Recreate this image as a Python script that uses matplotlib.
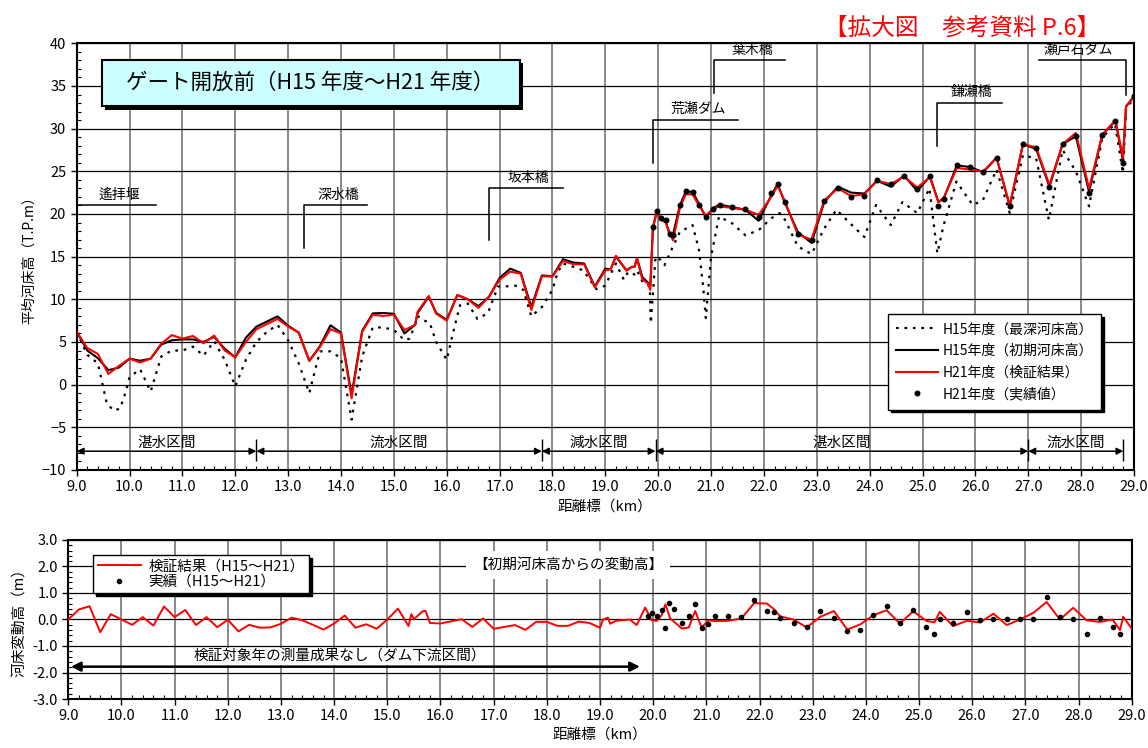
import matplotlib
matplotlib.use("Agg")
import matplotlib.pyplot as plt
from matplotlib.lines import Line2D
from matplotlib.patches import Rectangle
from matplotlib.ticker import MultipleLocator, FormatStrFormatter

plt.rcParams['font.family'] = ['Noto Sans CJK JP', 'DejaVu Sans']

# ---- 平均河床高 (km, H21 検証結果, H15 初期河床高) ----
km_top = [9.0, 9.2, 9.4, 9.6, 9.8, 10.0, 10.2, 10.4, 10.6, 10.8,
          11.0, 11.2, 11.4, 11.6, 11.8, 12.0, 12.2, 12.4, 12.6, 12.8,
          13.0, 13.2, 13.4, 13.6, 13.8, 14.0, 14.2, 14.4, 14.6, 14.8,
          15.0, 15.2, 15.4, 15.45, 15.66, 15.8, 16.0, 16.2, 16.4, 16.6,
          16.8, 17.0, 17.2, 17.4, 17.6, 17.8, 18.0, 18.2, 18.4, 18.6,
          18.8, 19.0, 19.1, 19.2, 19.4, 19.5, 19.55, 19.6, 19.7, 19.8,
          19.85, 19.9, 19.97, 20.06, 20.14, 20.22, 20.28, 20.41, 20.52, 20.65,
          20.77, 20.9, 21.04, 21.16, 21.4, 21.65, 21.9, 22.14, 22.26, 22.39,
          22.64, 22.9, 23.14, 23.4, 23.65, 23.9, 24.14, 24.4, 24.65, 24.9,
          25.14, 25.3, 25.4, 25.65, 25.9, 26.15, 26.4, 26.65, 26.9, 27.15,
          27.4, 27.65, 27.9, 28.15, 28.4, 28.65, 28.79, 28.85, 29.0]
h21_calc = [6.2, 4.3, 3.6, 1.25, 2.2, 3.05, 2.6, 3.05, 4.8, 5.8,
            5.4, 5.7, 4.85, 5.75, 4.0, 3.2, 5.0, 6.5, 7.1, 7.7,
            6.8, 6.1, 2.8, 4.4, 6.5, 6.0, -1.6, 6.2, 8.2, 8.05,
            8.2, 6.4, 7.0, 8.55, 10.4, 8.3, 7.5, 10.5, 10.0, 9.0,
            10.3, 12.3, 13.25, 13.0, 8.75, 12.7, 12.65, 14.5, 14.1, 14.1,
            11.4, 13.4, 13.5, 15.1, 13.35, 13.8, 13.8, 14.8, 12.3, 11.9,
            11.1, 18.5, 20.1, 19.3, 19.0, 17.8, 16.9, 20.7, 22.3, 22.3,
            21.0, 19.8, 20.6, 20.9, 20.7, 20.5, 19.9, 22.0, 23.3, 21.6,
            17.6, 17.0, 21.6, 23.0, 22.1, 22.3, 23.9, 23.5, 24.4, 23.1,
            24.3, 21.4, 21.9, 25.4, 25.2, 25.0, 26.6, 21.0, 28.2, 27.8,
            23.4, 28.2, 29.5, 23.0, 29.3, 31.0, 26.6, 32.6, 33.7]
h15_init = [6.2, 4.0, 3.1, 1.7, 2.0, 3.05, 2.8, 3.05, 4.7, 5.2,
            5.3, 5.3, 5.0, 5.6, 4.2, 3.2, 5.5, 6.8, 7.4, 8.0,
            6.9, 6.1, 2.8, 4.5, 6.95, 6.1, -1.2, 6.3, 8.35, 8.4,
            8.3, 6.0, 7.0, 8.4, 10.3, 8.4, 7.6, 10.5, 10.0, 9.2,
            10.3, 12.5, 13.6, 13.1, 9.1, 12.8, 12.7, 14.7, 14.3, 14.2,
            11.5, 13.6, 13.5, 15.0, 13.4, 13.8, 13.8, 14.8, 12.6, 12.0,
            11.5, 18.4, 20.2, 19.4, 19.1, 17.5, 17.6, 21.0, 22.6, 22.6,
            21.2, 19.6, 20.7, 21.1, 20.8, 20.5, 19.2, 22.2, 23.5, 21.4,
            17.9, 16.6, 21.4, 23.2, 22.5, 22.4, 23.9, 23.2, 24.5, 22.7,
            24.4, 21.4, 21.8, 25.7, 25.5, 24.9, 26.6, 20.9, 28.2, 27.6,
            23.2, 28.2, 29.1, 22.6, 29.3, 30.9, 26.3, 32.6, 33.8]

# ---- H21 実績値 ----
km_obs = [19.9, 19.97, 20.06, 20.14, 20.22, 20.28, 20.41, 20.52, 20.65, 20.77,
          20.9, 21.04, 21.16, 21.4, 21.65, 21.9, 22.14, 22.26, 22.39, 22.64,
          22.9, 23.14, 23.4, 23.65, 23.9, 24.14, 24.4, 24.65, 24.9, 25.14,
          25.3, 25.4, 25.65, 25.9, 26.15, 26.4, 26.65, 26.9, 27.15, 27.4,
          27.65, 27.9, 28.15, 28.4, 28.65, 28.79, 29.0]
h21_obs = [18.5, 20.3, 19.5, 19.3, 17.7, 17.5, 21.1, 22.7, 22.6, 21.1,
           19.6, 20.6, 21.1, 20.8, 20.6, 19.7, 22.4, 23.5, 21.4, 17.65,
           16.9, 21.5, 23.1, 22.0, 22.1, 24.0, 23.5, 24.5, 22.9, 24.4,
           20.9, 21.8, 25.7, 25.5, 24.9, 26.6, 20.9, 28.2, 27.7, 23.2,
           28.2, 29.1, 22.5, 29.3, 30.9, 25.95, 33.8]

# ---- H15 最深河床高 ----
km_deep = [9.0, 9.2, 9.4, 9.57, 9.7, 9.82, 9.92, 10.0, 10.2, 10.4,
           10.6, 10.8, 11.0, 11.2, 11.4, 11.6, 11.8, 12.0, 12.2, 12.4,
           12.6, 12.8, 13.0, 13.2, 13.4, 13.6, 13.8, 14.0, 14.2, 14.4,
           14.6, 14.8, 15.0, 15.2, 15.3, 15.46, 15.55, 15.68, 15.8, 16.0,
           16.1, 16.25, 16.4, 16.58, 16.78, 16.97, 17.1, 17.3, 17.45, 17.6,
           17.8, 18.0, 18.1, 18.2, 18.4, 18.58, 18.83, 19.0, 19.08, 19.2,
           19.35, 19.43, 19.55, 19.6, 19.7, 19.84, 19.86, 19.95, 20.05, 20.12,
           20.28, 20.41, 20.65, 20.77, 20.85, 20.9, 21.0, 21.15, 21.4, 21.65,
           21.9, 22.14, 22.3, 22.4, 22.64, 22.9, 23.14, 23.37, 23.63, 23.9,
           24.12, 24.4, 24.62, 24.9, 25.13, 25.28, 25.4, 25.64, 25.95, 26.14,
           26.4, 26.65, 26.9, 27.15, 27.39, 27.65, 27.9, 28.15, 28.4, 28.64,
           28.79, 28.85, 29.0]
h15_deep = [6.2, 3.5, 2.5, -2.2, -3.05, -2.8, -1.0, 0.9, 1.8, -0.8,
            3.3, 4.0, 4.0, 4.45, 3.4, 5.1, 2.9, -0.2, 2.9, 5.0,
            6.2, 7.0, 5.2, 2.5, -1.0, 3.9, 3.9, 3.1, -4.1, 3.3,
            6.7, 6.7, 6.4, 5.2, 5.4, 8.0, 7.6, 7.2, 5.0, 2.9,
            5.6, 9.3, 9.5, 7.7, 8.4, 11.5, 11.5, 11.6, 11.1, 8.0,
            9.1, 11.1, 13.2, 14.2, 13.8, 13.4, 11.2, 11.6, 12.7, 14.2,
            12.3, 13.2, 12.9, 13.4, 12.1, 11.5, 7.2, 15.0, 14.6, 14.0,
            16.2, 17.9, 18.7, 15.8, 11.5, 7.8, 15.0, 19.7, 18.9, 17.5,
            18.1, 19.5, 20.1, 19.3, 16.2, 15.3, 18.3, 20.5, 18.9, 17.3,
            21.05, 18.7, 21.4, 20.1, 23.0, 15.4, 18.7, 23.8, 21.05, 21.6,
            25.2, 20.1, 26.9, 26.5, 19.3, 27.5, 25.0, 20.9, 28.9, 30.6,
            24.8, 32.4, 33.5]

# ---- 初期河床高からの変動高 ----
km_chg = [9.0, 9.2, 9.4, 9.6, 9.8, 10.0, 10.2, 10.4, 10.6, 10.8,
          11.0, 11.2, 11.4, 11.6, 11.8, 12.0, 12.2, 12.4, 12.6, 12.8,
          13.0, 13.2, 13.4, 13.6, 13.8, 14.0, 14.2, 14.4, 14.6, 14.8,
          15.0, 15.2, 15.4, 15.45, 15.5, 15.55, 15.67, 15.72, 15.8, 16.0,
          16.4, 16.6, 16.8, 17.0, 17.4, 17.6, 17.8, 18.0, 18.2, 18.4,
          18.6, 18.8, 19.0, 19.06, 19.15, 19.19, 19.3, 19.56, 19.69, 19.85,
          19.97, 20.07, 20.16, 20.23, 20.32, 20.54, 20.67, 20.79, 20.91, 21.04,
          21.16, 21.41, 21.66, 21.9, 22.14, 22.26, 22.39, 22.64, 22.89, 23.14,
          23.4, 23.65, 23.9, 24.14, 24.39, 24.64, 24.89, 25.14, 25.29, 25.39,
          25.64, 25.9, 26.15, 26.4, 26.65, 26.9, 27.15, 27.4, 27.65, 27.9,
          28.15, 28.4, 28.64, 28.78, 28.84, 29.0]
chg_calc = [0.0, 0.38, 0.5, -0.48, 0.2, 0.0, -0.2, 0.09, -0.23, 0.49,
            0.09, 0.36, -0.21, 0.09, -0.29, -0.01, -0.45, -0.2, -0.31, -0.3,
            -0.16, 0.07, -0.03, -0.2, -0.38, -0.15, 0.15, -0.31, -0.18, -0.35,
            0.0, 0.41, -0.25, 0.2, 0.02, 0.1, 0.32, 0.32, -0.13, -0.15,
            0.01, -0.28, 0.04, -0.35, -0.21, -0.39, -0.09, -0.09, -0.24, -0.24,
            -0.08, -0.13, -0.31, 0.0, 0.07, -0.16, -0.05, 0.0, -0.21, 0.45,
            -0.03, -0.05, 0.16, 0.57, 0.04, -0.34, -0.3, 0.32, -0.3, -0.03,
            -0.06, -0.05, 0.04, 0.62, 0.6, 0.41, 0.12, 0.0, -0.3, 0.1,
            0.32, -0.38, -0.18, 0.16, 0.35, -0.15, 0.31, -0.05, -0.11, 0.29,
            -0.25, -0.05, -0.11, 0.22, -0.21, 0.0, 0.25, 0.66, 0.0, 0.44,
            -0.03, -0.09, 0.0, -0.4, 0.1, -0.34]

km_chg_obs = [19.9, 19.97, 20.07, 20.16, 20.22, 20.29, 20.4, 20.54, 20.67, 20.79,
              20.91, 21.04, 21.16, 21.41, 21.66, 21.9, 22.14, 22.27, 22.39, 22.64,
              22.89, 23.14, 23.4, 23.65, 23.89, 24.14, 24.39, 24.64, 24.89, 25.14,
              25.29, 25.39, 25.64, 25.9, 26.15, 26.4, 26.65, 26.9, 27.15, 27.4,
              27.65, 27.9, 28.15, 28.4, 28.65, 28.78]
chg_obs = [0.12, 0.25, 0.14, 0.35, -0.31, 0.64, 0.39, -0.13, 0.14, 0.6,
           -0.31, -0.17, 0.14, 0.14, 0.08, 0.72, 0.32, 0.29, 0.07, -0.13,
           -0.29, 0.31, 0.06, -0.44, -0.38, 0.16, 0.5, -0.15, 0.37, -0.28,
           -0.53, 0.0, -0.13, 0.29, -0.03, 0.0, 0.0, 0.0, 0.02, 0.85,
           0.1, 0.0, -0.55, 0.06, -0.3, -0.56]

# 区間 (境界 km, 名称)
section_bounds = [9.0, 12.4, 17.8, 19.95, 27.0, 28.8]
section_names = ['湛水区間', '流水区間', '減水区間', '湛水区間', '流水区間']

# 橋・堰 (名称, 縦線 km, 縦線下端, 横線高さ, 横線右端 km)
landmarks = [
    ('遙拝堰', 9.0, 21.0, 21.0, 10.5),
    ('深水橋', 13.3, 16.0, 21.0, 14.5),
    ('坂本橋', 16.8, 17.0, 23.0, 18.2),
    ('荒瀬ダム', 19.9, 26.0, 31.0, 21.5),
    ('葉木橋', 21.05, 34.2, 38.0, 22.4),
    ('鎌瀬橋', 25.27, 28.0, 33.0, 26.5),
]

fig = plt.figure(figsize=(11.48, 7.48), dpi=100)
ax1 = fig.add_axes([0.0668, 0.3717, 0.921, 0.5704])
ax2 = fig.add_axes([0.0595, 0.0655, 0.9263, 0.2126])


def style_axes(ax, ymaj, ymin):
    ax.set_xlim(9.0, 29.0)
    ax.xaxis.set_major_locator(MultipleLocator(1.0))
    ax.xaxis.set_minor_locator(MultipleLocator(0.2))
    ax.yaxis.set_major_locator(MultipleLocator(ymaj))
    ax.yaxis.set_minor_locator(MultipleLocator(ymin))
    ax.xaxis.set_major_formatter(FormatStrFormatter('%.1f'))
    ax.tick_params(which='major', direction='out', length=4, width=1.0, labelsize=10.5)
    ax.tick_params(which='minor', direction='in', length=3, width=0.8)
    ax.grid(which='major', axis='x', color='#808080', lw=1.3)
    ax.grid(which='major', axis='y', color='black', lw=0.9)
    ax.set_axisbelow(True)
    for s in ax.spines.values():
        s.set_linewidth(1.5)


# ---- 上段：平均河床高 ----
style_axes(ax1, 5, 1)
ax1.set_ylim(-10, 40)

ax1.plot(km_deep, h15_deep, color='black', lw=1.6, ls=(0, (1.2, 2.6)), zorder=3)
ax1.plot(km_top, h15_init, color='black', lw=1.5, zorder=4)
ax1.plot(km_top, h21_calc, color='#ff0000', lw=1.5, zorder=5)
ax1.plot(km_obs, h21_obs, 'o', color='black', ms=3.3, zorder=6)

ax1.set_ylabel('平均河床高（T.P.m）', fontsize=10)
ax1.set_xlabel('距離標（km）', fontsize=10.5, labelpad=4)

# 題名ボックス
ax1.add_patch(Rectangle((9.53, 32.2), 7.91, 5.5, facecolor='black', zorder=7))
ax1.add_patch(Rectangle((9.47, 32.6), 7.91, 5.5, facecolor='#ccffff',
                        edgecolor='black', lw=1.5, zorder=8))
ax1.text(13.42, 35.35, 'ゲート開放前（H15 年度～H21 年度）', fontsize=15.5,
         ha='center', va='center', zorder=9)

# 橋・堰の位置
for name, xv, ybot, ytop, xr in landmarks:
    ax1.plot([xv, xv, xr], [ybot, ytop, ytop], color='black', lw=1.1, zorder=6)
    ax1.text((xv + xr) / 2 + 0.05, ytop + 0.45, name, fontsize=10,
             ha='center', va='bottom', zorder=6)
ax1.plot([27.2, 28.85, 28.85], [38.05, 38.05, 34.0], color='black', lw=1.1, zorder=6)
ax1.text(27.95, 38.5, '瀬戸石ダム', fontsize=10, ha='center', va='bottom', zorder=6)

# 区間矢印
for i, name in enumerate(section_names):
    x0, x1 = section_bounds[i], section_bounds[i + 1]
    ax1.annotate('', xy=(x0, -7.8), xytext=(x1, -7.8),
                 arrowprops=dict(arrowstyle='<|-|>', color='black', lw=1.1,
                                 shrinkA=0, shrinkB=0, mutation_scale=10))
    ax1.text((x0 + x1) / 2, -6.85, name, fontsize=10.5, ha='center', va='center')
ax1.vlines(section_bounds[1:], -9.0, -6.4, color='black', lw=1.0)

handles = [
    Line2D([], [], color='black', lw=1.6, ls=(0, (1.2, 2.6))),
    Line2D([], [], color='black', lw=1.5),
    Line2D([], [], color='#ff0000', lw=1.5),
    Line2D([], [], color='black', ls='none', marker='o', ms=3.3),
]
labels = ['H15年度（最深河床高）', 'H15年度（初期河床高）',
          'H21年度（検証結果）', 'H21年度（実績値）']
leg = ax1.legend(handles, labels, loc='upper right', bbox_to_anchor=(0.9754, 0.382),
                 fontsize=10, handlelength=3.0, labelspacing=0.55, borderpad=0.6,
                 handletextpad=0.3, fancybox=False, framealpha=1,
                 shadow={'color': 'black', 'alpha': 1})
leg.get_frame().set_edgecolor('black')
leg.get_frame().set_linewidth(1.0)
leg.set_zorder(10)

# ---- 下段：変動高 ----
style_axes(ax2, 1.0, 0.2)
ax2.set_ylim(-3.0, 3.0)
ax2.yaxis.set_major_formatter(FormatStrFormatter('%.1f'))

ax2.plot(km_chg, chg_calc, color='#ff0000', lw=1.4, zorder=4)
ax2.plot(km_chg_obs, chg_obs, 'o', color='black', ms=3.0, zorder=5)

ax2.set_ylabel('河床変動高（m）', fontsize=10.5)
ax2.set_xlabel('距離標（km）', fontsize=10.5, labelpad=3)

ax2.text(18.4, 2.05, '【初期河床高からの変動高】', fontsize=10.5, ha='center', va='center',
         bbox=dict(facecolor='white', edgecolor='none', pad=5), zorder=6)
ax2.annotate('', xy=(9.05, -1.78), xytext=(19.75, -1.78),
             arrowprops=dict(arrowstyle='<|-|>', color='black', lw=1.8,
                             shrinkA=0, shrinkB=0, mutation_scale=14))
ax2.text(14.1, -1.38, '検証対象年の測量成果なし（ダム下流区間）', fontsize=10.5,
         ha='center', va='center', bbox=dict(facecolor='white', edgecolor='none', pad=1))

handles2 = [Line2D([], [], color='#ff0000', lw=1.4),
            Line2D([], [], color='black', ls='none', marker='o', ms=3.0)]
leg2 = ax2.legend(handles2, ['検証結果（H15～H21）', '実績（H15～H21）'],
                  loc='upper left', bbox_to_anchor=(0.0166, 0.95), fontsize=10.5,
                  handlelength=3.0, labelspacing=0.1, borderpad=0.3,
                  handletextpad=0.5, fancybox=False, framealpha=1,
                  shadow={'color': 'black', 'alpha': 1})
leg2.get_frame().set_edgecolor('black')
leg2.get_frame().set_linewidth(1.0)

fig.text(0.838, 0.962, '【拡大図　参考資料 P.6】', color='#ff0000', fontsize=17,
         ha='center', va='center')

fig.savefig('out.png', dpi=100)
